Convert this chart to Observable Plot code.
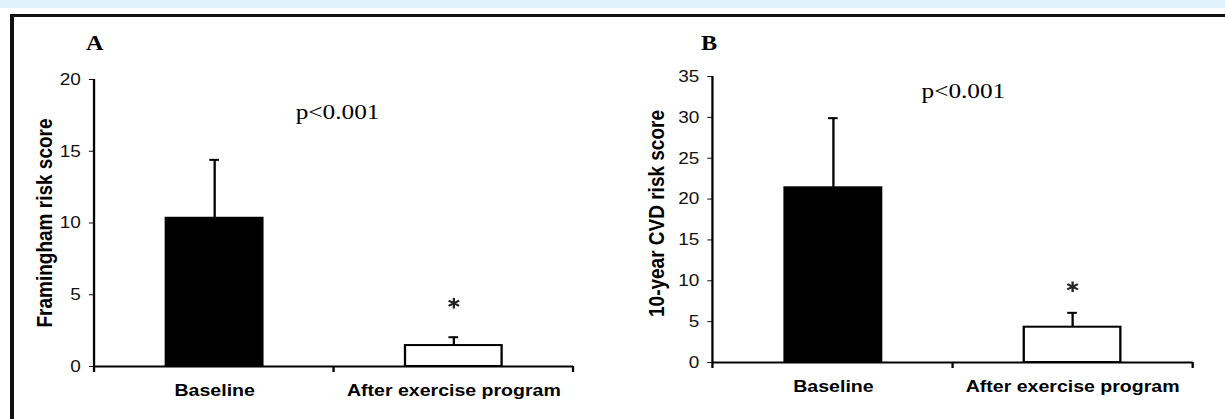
<!DOCTYPE html>
<html><head><meta charset="utf-8">
<script src="https://cdn.jsdelivr.net/npm/d3@7"></script>
<script src="https://cdn.jsdelivr.net/npm/@observablehq/plot@0.6"></script>
<style>
html,body{margin:0;padding:0;background:#fff}
body{width:1225px;height:419px;overflow:hidden;position:relative;font-family:"Liberation Sans",Arial,sans-serif}
#strip{position:absolute;left:0;top:0;width:1225px;height:8px;background:#e0f2fb}
#frame{position:absolute;left:10px;top:14px;width:1225px;height:420px;border-top:3px solid #111;border-left:4px solid #111;box-sizing:border-box}
.panel{position:absolute;top:20px}
</style></head><body>
<div id="strip"></div><div id="frame"></div>
<div id="pa" class="panel" style="left:14px"></div>
<div id="pb" class="panel" style="left:604px"></div>
<script>
// ---- data ----
const categories = ["Baseline", "After exercise program"];
const barFills = ["#000000", "#ffffff"];
const significance = ["", "*"];
const pText = "p<0.001";

const framinghamMean = [10.33, 1.46];
const framinghamErr = [4.07, 0.58];
const framinghamTicks = [0, 5, 10, 15, 20];

const cvdMean = [21.38, 4.32];
const cvdErr = [8.52, 1.76];
const cvdTicks = [0, 5, 10, 15, 20, 25, 30, 35];

const S = 1.15; // horizontal stretch of the original figure

function panel(cfg) {
  const data = categories.map((c, i) => ({
    cat: c, mean: cfg.means[i], top: cfg.means[i] + cfg.errs[i], fill: barFills[i], sig: significance[i]
  }));
  const yMax = cfg.ticks[cfg.ticks.length - 1];
  const frameLines = (index, scales, values, dims) => {
    const {marginLeft, marginRight, width} = dims;
    const y0 = scales.y(0), y1 = scales.y(yMax);
    const g = d3.create("svg:g").attr("stroke", "#000").attr("stroke-width", 2).attr("fill", "none");
    g.append("line").attr("x1", marginLeft).attr("x2", marginLeft).attr("y1", y1).attr("y2", y0 + 1);
    const n = categories.length;
    for (let k = 0; k <= n; k++) {
      const x = marginLeft + k * (width - marginLeft - marginRight) / n;
      g.append("line").attr("x1", x).attr("x2", x).attr("y1", y0).attr("y2", y0 + 6);
    }
    return g.node();
  };
  const plot = Plot.plot({
    width: cfg.width, height: 390,
    marginLeft: cfg.marginLeft, marginRight: cfg.marginRight,
    marginTop: cfg.marginTop, marginBottom: cfg.marginBottom,
    style: {fontFamily: "'Liberation Sans', Arial, sans-serif", fontSize: "16.5px", color: "#111", background: "transparent", overflow: "visible"},
    x: {type: "band", domain: categories, paddingInner: 0.595, paddingOuter: 0.2975},
    y: {domain: [0, yMax], ticks: cfg.ticks, tickSize: 4.5, tickPadding: 7.5, label: null},
    color: {type: "identity"},
    marks: [
      Plot.ruleX(data, {x: "cat", y1: "mean", y2: "top", stroke: "#000", strokeWidth: 2}),
      Plot.tickY(data, {x: "cat", y: "top", insetLeft: 37.8, insetRight: 37.8, stroke: "#000", strokeWidth: 2}),
      Plot.barY(data, {x: "cat", y: "mean", fill: "fill", stroke: "#000", strokeWidth: 2}),
      Plot.ruleY([0], {stroke: "#000", strokeWidth: 2}),
      frameLines,
      Plot.axisX({tickSize: 0, tickPadding: 17, label: null, fontWeight: "bold", fontSize: 17, fill: "#000"}),
      Plot.dot(data.filter(d => d.sig === "*"), {x: "cat", y: "top", dy: cfg.starDy, symbol: "asterisk", r: 5, stroke: "#222", strokeWidth: 2}),
      Plot.text([pText], {frameAnchor: "top", dx: cfg.pDx, dy: cfg.pDy, lineAnchor: "middle", fontFamily: "'Liberation Serif', 'Times New Roman', serif", fontSize: 22, fill: "#000"}),
      Plot.text([cfg.letter], {frameAnchor: "top-left", dx: cfg.letterDx, dy: cfg.letterDy, textAnchor: "middle", lineAnchor: "middle", fontFamily: "'Liberation Serif', 'Times New Roman', serif", fontWeight: "bold", fontSize: 21, fill: "#000"}),
      Plot.text([cfg.yLabel], {frameAnchor: "left", dx: cfg.labelDx, dy: cfg.labelDy, rotate: -90, textAnchor: "middle", lineAnchor: "middle", fontWeight: "bold", fontSize: 19, fill: "#000"})
    ]
  });
  plot.setAttribute("preserveAspectRatio", "none");
  plot.setAttribute("width", cfg.width * S);
  plot.style.maxWidth = "none";
  plot.style.width = (cfg.width * S) + "px";
  plot.style.height = "390px";
  document.getElementById(cfg.el).appendChild(plot);
}

panel({
  el: "pa", width: 510, marginLeft: 69.6, marginRight: 23.9, marginTop: 59, marginBottom: 44,
  means: framinghamMean, errs: framinghamErr, ticks: framinghamTicks,
  yLabel: "Framingham risk score", letter: "A",
  starDy: -34, pDx: 3, pDy: 32, letterDx: 0, letterDy: -36, labelDx: -43.5, labelDy: 0
});
panel({
  el: "pb", width: 537, marginLeft: 94.3, marginRight: 25.1, marginTop: 56, marginBottom: 48,
  means: cvdMean, errs: cvdErr, ticks: cvdTicks,
  yLabel: "10-year CVD risk score", letter: "B",
  starDy: -26, pDx: 8.9, pDy: 14, letterDx: -3.5, letterDy: -33, labelDx: -48.7, labelDy: -6
});
</script>
</body></html>
